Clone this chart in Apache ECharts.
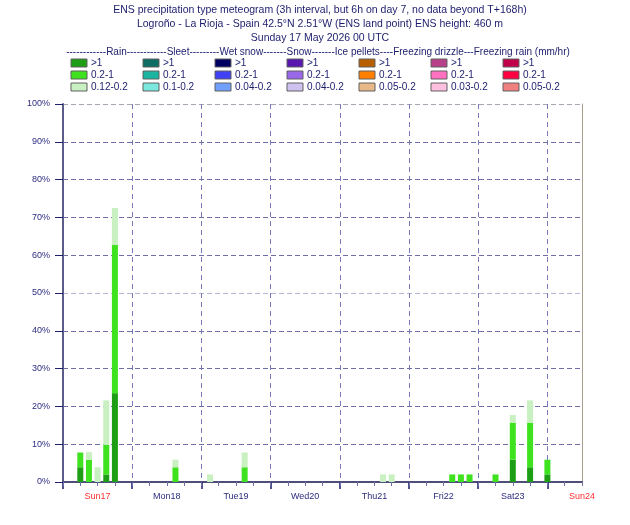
<!DOCTYPE html>
<html>
<head>
<meta charset="utf-8">
<script src="https://cdn.jsdelivr.net/npm/echarts@6/dist/echarts.min.js"></script>
<style>html,body{margin:0;padding:0;background:#fff}#c{width:630px;height:525px}</style>
</head>
<body>
<div id="c"></div>
<script>
// ---- data ----
const titleLines = [
  'ENS precipitation type meteogram (3h interval, but 6h on day 7, no data beyond T+168h)',
  'Logroño - La Rioja - Spain 42.5°N 2.51°W (ENS land point) ENS height: 460 m',
  'Sunday 17 May 2026 00 UTC'
];
const legendHeader = '------------Rain------------Sleet---------Wet snow-------Snow-------Ice pellets----Freezing drizzle---Freezing rain (mm/hr)';
const legendLabels = [
  ['>1','0.2-1','0.12-0.2'],
  ['>1','0.2-1','0.1-0.2'],
  ['>1','0.2-1','0.04-0.2'],
  ['>1','0.2-1','0.04-0.2'],
  ['>1','0.2-1','0.05-0.2'],
  ['>1','0.2-1','0.03-0.2'],
  ['>1','0.2-1','0.05-0.2']
];
const legendColors = [
  ['#1e9e14','#3ee21e','#c8f0c0'],
  ['#0e6e64','#1ab4a0','#7ae8dc'],
  ['#000060','#4040f4','#70a0fc'],
  ['#5818b0','#9868e8','#d0c2f0'],
  ['#b86000','#ff8000','#e8b888'],
  ['#b84088','#ff70c0','#ffc0e0'],
  ['#c00048','#ff0040','#f08080']
];
// forecast steps (hours from base time) with non-zero probabilities (%)
const steps   = [6, 9, 12, 15, 18, 39, 51, 63, 111, 114, 135, 138, 141, 150, 156, 162, 168];
const rainGt1 = [3.9, 0, 0, 2.0, 23.5, 0, 0, 0, 0, 0, 0, 0, 0, 0, 5.9, 3.9, 2.0];
const rainMid = [3.9, 5.9, 0, 7.8, 39.2, 3.9, 0, 3.9, 0, 0, 2.0, 2.0, 2.0, 2.0, 9.8, 11.8, 3.9];
const rainLow = [0, 2.0, 3.9, 11.8, 9.8, 2.0, 2.0, 3.9, 2.0, 2.0, 0, 0, 0, 0, 2.0, 5.9, 0];
const dayLabels = ['Sun17','Mon18','Tue19','Wed20','Thu21','Fri22','Sat23','Sun24'];
const dayLabelHours = [12, 36, 60, 84, 108, 132, 156, 180];
const dayStartHours = [0, 24, 48, 72, 96, 120, 144, 168];
const redDays = ['Sun17','Sun24'];
const yTickLabels = ['0%','10%','20%','30%','40%','50%','60%','70%','80%','90%','100%'];
const axisStartHour = 0, axisEndHour = 180, slotHours = 3, minorTickHours = 6;

// ---- axis slots (3-hourly positions along the time axis) ----
const slots = [];
for (let h = axisStartHour; h <= axisEndHour; h += slotHours) slots.push(h);
function fill(vals) { return slots.map(h => { const i = steps.indexOf(h); return i < 0 ? 0 : vals[i]; }); }

// ---- chart ----
const chart = echarts.init(document.getElementById('c'), null, {renderer: 'canvas'});
const FONT = 'Liberation Sans, Arial, sans-serif';
const NAVY = '#1c1c6c';

const graphics = [];
titleLines.forEach((t, i) => {
  graphics.push({type: 'text', x: 320, y: 5 + i * 14,
    style: {text: t, font: '10.5px ' + FONT, fill: NAVY, textAlign: 'center'}});
});
graphics.push({
  type: 'text', x: 318, y: 47,
  style: {text: legendHeader, font: '10px ' + FONT, fill: NAVY, textAlign: 'center'}
});
legendColors.forEach((col, ci) => {
  col.forEach((c, ri) => {
    graphics.push({
      type: 'rect', x: 71 + ci * 72, y: 59 + ri * 12,
      shape: {x: 0, y: 0, width: 16, height: 8},
      style: {fill: c, stroke: '#606060', lineWidth: 1}
    });
    graphics.push({
      type: 'text', x: 91 + ci * 72, y: 58 + ri * 12,
      style: {text: legendLabels[ci][ri], font: '10px ' + FONT, fill: NAVY}
    });
  });
});

const splitColors = yTickLabels.map((t, i) => i === 5 ? '#b8b8d8' : (i === 10 ? '#a8a8b4' : '#6e6eaa'));
const labelFor = v => { const i = dayLabelHours.indexOf(Number(v)); return i < 0 ? '' : dayLabels[i]; };

const option = {
  animation: false,
  backgroundColor: '#fff',
  graphic: graphics,
  grid: {left: 63, right: 48, top: 104, bottom: 43, containLabel: false},
  xAxis: [
    {
      type: 'category', data: slots, boundaryGap: false,
      axisLine: {show: true, lineStyle: {color: '#4e4e78', width: 2}},
      axisTick: {show: true, length: 7, interval: (i) => dayStartHours.includes(slots[i]),
        lineStyle: {color: '#1a1a6a', width: 1.5}},
      axisLabel: {
        show: true, margin: 10, interval: (i) => dayLabelHours.includes(slots[i]),
        fontFamily: FONT, fontSize: 9,
        formatter: v => labelFor(v),
        color: v => redDays.includes(labelFor(v)) ? '#ff3030' : '#2c2c80'
      },
      splitLine: {show: true, interval: (i) => dayStartHours.includes(slots[i]) && slots[i] > axisStartHour,
        lineStyle: {color: '#7878b8', type: [5, 4], width: 1}}
    },
    {
      type: 'category', data: slots, boundaryGap: false, position: 'bottom',
      axisLine: {show: false},
      axisTick: {show: true, length: 4, interval: (i) => slots[i] % minorTickHours === 0,
        lineStyle: {color: '#7070a8', width: 1}},
      axisLabel: {show: false},
      splitLine: {show: false}
    }
  ],
  yAxis: [
    {
      type: 'value', min: 0, max: 100, interval: 10,
      axisLine: {show: true, lineStyle: {color: '#5c5c8c', width: 2}},
      axisTick: {show: true, length: 8, lineStyle: {color: '#20206a', width: 1}},
      axisLabel: {margin: 13, fontFamily: FONT, fontSize: 9, color: '#2c2c80',
        formatter: v => yTickLabels[Math.round(v / 10)]},
      splitLine: {show: true, lineStyle: {color: splitColors, type: [5, 3], width: 1}}
    },
    {
      type: 'value', min: 0, max: 100, position: 'right',
      axisLine: {show: true, lineStyle: {color: '#a8a08c', width: 1}},
      axisTick: {show: false}, axisLabel: {show: false}, splitLine: {show: false}
    }
  ],
  series: [
    {type: 'bar', name: 'Rain >1', stack: 'rain', xAxisIndex: 0, yAxisIndex: 0, barWidth: 6,
      itemStyle: {color: legendColors[0][0]}, data: fill(rainGt1)},
    {type: 'bar', name: 'Rain 0.2-1', stack: 'rain', xAxisIndex: 0, yAxisIndex: 0, barWidth: 6,
      itemStyle: {color: legendColors[0][1]}, data: fill(rainMid)},
    {type: 'bar', name: 'Rain 0.12-0.2', stack: 'rain', xAxisIndex: 0, yAxisIndex: 0, barWidth: 6,
      itemStyle: {color: legendColors[0][2]}, data: fill(rainLow)}
  ]
};
chart.setOption(option);
</script>
</body>
</html>
